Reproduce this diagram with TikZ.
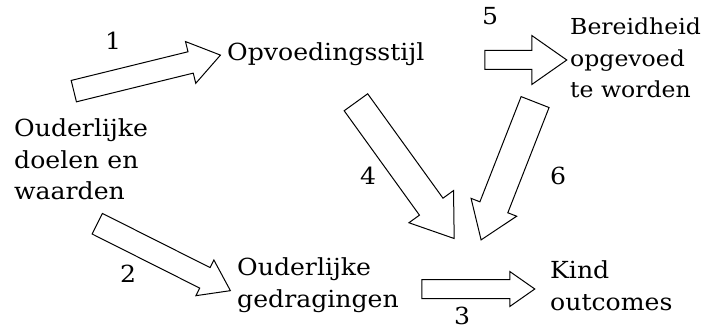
\documentclass[tikz,border=0pt]{standalone}
\usepackage{fontspec}
\setmainfont[FakeStretch=1.07]{DejaVu Serif}
\usetikzlibrary{shapes.arrows}

\tikzset{
  concept/.style={anchor=base west, align=left, inner sep=0pt,
    font=\fontsize{23.5}{31.5}\selectfont},
  pathnum/.style={anchor=base, inner sep=0pt,
    font=\fontsize{23.5}{31.5}\selectfont},
  bigarrow/.style n args={3}{draw, line width=1pt, single arrow,
    single arrow tip angle=70, inner sep=0pt, inner ysep=#2/2,
    single arrow head extend=(#3-#2)/2, minimum height=#1},
}

\begin{document}
\begin{tikzpicture}[x=1pt, y=-1pt]

  \useasboundingbox (0,0) rectangle (707,331);

  % concepts (anchored at the baseline of their last line)
  \node[concept] (doelen)  at (14,200)  {Ouderlijke\\doelen en\\waarden};
  \node[concept] (stijl)   at (227,61)  {Opvoedingsstijl};
  \node[concept, font=\fontsize{22}{31.5}\selectfont]
                 (bereid)  at (570,98)  {Bereidheid\\opgevoed\\te worden};
  \node[concept] (gedrag)  at (237,307) {Ouderlijke\\gedragingen};
  \node[concept] (kind)    at (550,310) {Kind\\outcomes};

  % block arrows
  \node[bigarrow={151}{21}{42}, rotate=13.8]   (arrow1) at (139.5,75)  {};
  \node[bigarrow={149}{22}{39}, rotate=-26.7]  (arrow2) at (156.5,253.5) {};
  \node[bigarrow={113}{18}{34}]                (arrow3) at (471.5,289) {};
  \node[bigarrow={168}{28}{54}, rotate=-54.2]  (arrow4) at (399,162)   {};
  \node[bigarrow={82}{18}{48}]                 (arrow5) at (519,60)    {};
  \node[bigarrow={148}{29}{48}, rotate=-111.4] (arrow6) at (512,161)   {};

  % path numbers
  \node[pathnum] (n1) at (113,50)  {1};
  \node[pathnum] (n2) at (128,283) {2};
  \node[pathnum] (n3) at (462,324) {3};
  \node[pathnum] (n4) at (368,185) {4};
  \node[pathnum] (n5) at (490,25)  {5};
  \node[pathnum] (n6) at (558,185) {6};

\end{tikzpicture}
\end{document}
